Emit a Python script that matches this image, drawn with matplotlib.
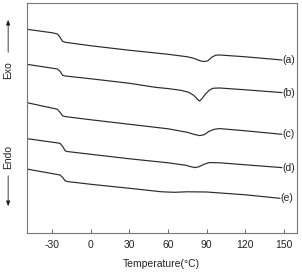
import matplotlib
matplotlib.use("Agg")
import matplotlib.pyplot as plt

plt.rcParams['font.family'] = ['Liberation Sans', 'DejaVu Sans']

# Temperature (°C) and heat-flow readings (arbitrary units, larger = higher on chart)
T_a = [-50, -30, -26, -24, -22, -20, 0, 30, 60, 75, 80, 85, 88, 91, 94, 97, 100, 120, 148.5]
H_a = [26, 29.5, 30.7, 34, 38, 39, 42.5, 47, 51, 53.5, 55, 57.5, 58.3, 57.5, 54, 52, 51.7, 53.5, 56.7]

T_b = [-50, -26, -24, -22, -20, 0, 30, 50, 60, 70, 76, 80, 83, 84.5, 86, 89, 92, 95, 100, 120, 148.5]
H_b = [61, 65.7, 68, 72, 72.7, 75.5, 80, 84, 85.3, 87, 89, 92, 96, 97.7, 96, 91, 87, 85, 84.7, 86.5, 89.3]

T_c = [-50, -26, -24, -22, -20, 0, 30, 60, 75, 80, 84.5, 88, 92, 96, 100, 120, 148.5]
H_c = [99.3, 106, 109, 112.5, 113.3, 116.5, 121, 125.5, 129, 131, 132.3, 131.5, 128, 126, 125.3, 127.5, 131]

T_d = [-50, -24, -22, -20, -18, 0, 30, 60, 74, 78, 81, 84, 88, 92, 100, 120, 148.5]
H_d = [135.3, 140, 143, 147.5, 148.3, 151, 155.5, 159.5, 162, 163.5, 164.3, 163.5, 161, 159.3, 159.5, 161.5, 164.3]

T_e = [-50, -24, -22, -20, -18, 0, 30, 55, 65, 75, 90, 120, 147]
H_e = [165.7, 171.7, 174, 177.5, 178.3, 181, 185, 188.5, 189, 188.5, 188.7, 191.5, 195]

curves = [(T_a, H_a, '(a)'), (T_b, H_b, '(b)'), (T_c, H_c, '(c)'),
          (T_d, H_d, '(d)'), (T_e, H_e, '(e)')]
x_ticks = [-30, 0, 30, 60, 90, 120, 150]

fig = plt.figure(figsize=(3.02, 2.72), dpi=100)
ax = fig.add_axes([0.088, 0.1445, 0.894, 0.8435])
for T, H, lab in curves:
    ax.plot(T, H, color='#2a2a2a', lw=0.85)
    ax.text(T[-1] + 0.3, H[-1], lab, fontsize=7.5, ha='left', va='center', color='#222222')

ax.set_xlim(-50, 160)
ax.set_ylim(229.4, 0)
ax.set_yticks([])
ax.set_xticks(x_ticks)
ax.set_xticklabels([str(v) for v in x_ticks], fontsize=7.5, color='#222222')
ax.tick_params(axis='x', direction='in', length=3, width=0.6, color='#555555', pad=5)
for s in ax.spines.values():
    s.set_color('#777777')
    s.set_linewidth(0.8)
ax.set_xlabel('Temperature(°C)', fontsize=7.5, color='#222222', labelpad=7)

# Exo / Endo annotations
fig.text(0.027, 1 - 70 / 272, 'Exo', rotation=90, fontsize=7.5, ha='center', va='center', color='#222222')
fig.text(0.027, 1 - 157 / 272, 'Endo', rotation=90, fontsize=7.5, ha='center', va='center', color='#222222')
fig.add_artist(matplotlib.patches.FancyArrowPatch((0.027, 1 - 55 / 272), (0.027, 1 - 17 / 272),
               transform=fig.transFigure, arrowstyle='-|>,head_length=3,head_width=1.2',
               color='#222222', lw=0.6))
fig.add_artist(matplotlib.patches.FancyArrowPatch((0.027, 1 - 173 / 272), (0.027, 1 - 209 / 272),
               transform=fig.transFigure, arrowstyle='-|>,head_length=3,head_width=1.2',
               color='#222222', lw=0.6))

fig.savefig('out.png', dpi=100)
